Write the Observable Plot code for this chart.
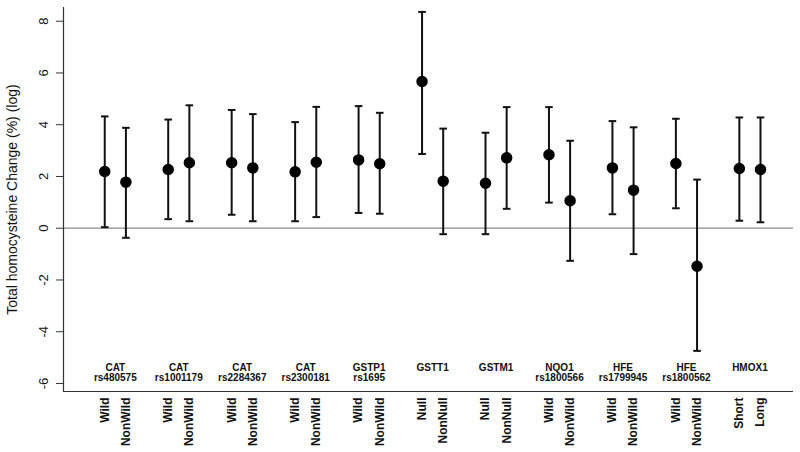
<!DOCTYPE html>
<html>
<head>
<meta charset="utf-8">
<script src="https://cdn.jsdelivr.net/npm/d3@7"></script>
<script src="https://cdn.jsdelivr.net/npm/@observablehq/plot@0.6"></script>
<style>
  html, body { margin: 0; padding: 0; background: #fff; }
  #chart svg { display: block; }
</style>
</head>
<body>
<div id="chart"></div>
<script>
// ---- data ----
const genes = ["CAT", "CAT", "CAT", "CAT", "GSTP1", "GSTT1", "GSTM1", "NQO1", "HFE", "HFE", "HMOX1"];
const snps = ["rs480575", "rs1001179", "rs2284367", "rs2300181", "rs1695", "", "", "rs1800566", "rs1799945", "rs1800562", ""];
const levels = ["Wild", "NonWild", "Wild", "NonWild", "Wild", "NonWild", "Wild", "NonWild", "Wild", "NonWild",
                "Null", "NonNull", "Null", "NonNull", "Wild", "NonWild", "Wild", "NonWild", "Wild", "NonWild",
                "Short", "Long"];
const estimate = [2.19, 1.78, 2.27, 2.53, 2.53, 2.33, 2.18, 2.55, 2.64, 2.49, 5.67, 1.82, 1.74, 2.72, 2.84, 1.06, 2.33, 1.47, 2.50, -1.47, 2.31, 2.27];
const lower = [0.04, -0.37, 0.35, 0.27, 0.52, 0.27, 0.27, 0.43, 0.59, 0.56, 2.87, -0.23, -0.23, 0.75, 0.99, -1.26, 0.54, -1.00, 0.77, -4.74, 0.29, 0.23];
const upper = [4.32, 3.88, 4.20, 4.75, 4.57, 4.41, 4.10, 4.69, 4.72, 4.46, 8.36, 3.85, 3.69, 4.68, 4.68, 3.38, 4.14, 3.90, 4.23, 1.88, 4.28, 4.28];
const yTicks = [-6, -4, -2, 0, 2, 4, 6, 8];
const yTitle = "Total homocysteine Change (%) (log)";

// ---- build tables ----
const rows = levels.map((lv, k) => ({
  pos: 3 * Math.floor(k / 2) + (k % 2),
  level: lv,
  est: estimate[k],
  lo: lower[k],
  hi: upper[k]
}));
const groups = genes.map((g, i) => ({pos: 3 * i + 0.5, gene: g, snp: snps[i]}));

const cap = {
  draw(context) {
    context.moveTo(-3.8, 0);
    context.lineTo(3.8, 0);
  }
};

const font = "'Liberation Sans', Arial, Helvetica, sans-serif";

const chart = Plot.plot({
  width: 800,
  height: 452,
  marginLeft: 63,
  marginRight: 7,
  marginTop: 7,
  marginBottom: 61,
  x: {domain: [-1.95, 32.56], axis: null},
  y: {domain: [-6.31, 8.53], axis: null},
  style: {fontFamily: font, background: "#fff", color: "#000", overflow: "visible"},
  marks: [
    Plot.ruleY([0], {stroke: "#8a8a8a", strokeWidth: 1.2}),
    Plot.ruleX([-1.95], {stroke: "#333", strokeWidth: 1.2}),
    Plot.ruleY([-6.31], {stroke: "#333", strokeWidth: 1.2}),
    Plot.axisY({ticks: yTicks, tickSize: 7, text: null, anchor: "left", stroke: "#333"}),
    Plot.text(yTicks, {y: d => d, text: d => String(d), frameAnchor: "left", dx: -20, rotate: -90,
      textAnchor: "middle", lineAnchor: "middle", fontSize: 13, fill: "#111"}),
    Plot.text([yTitle], {frameAnchor: "left", dx: -51, rotate: -90, textAnchor: "middle",
      lineAnchor: "middle", fontSize: 14, fill: "#111"}),
    Plot.ruleX(rows, {x: "pos", y1: "lo", y2: "hi", stroke: "#111", strokeWidth: 2}),
    Plot.dot(rows, {x: "pos", y: "hi", symbol: cap, r: 1, stroke: "#111", strokeWidth: 2, fill: "none"}),
    Plot.dot(rows, {x: "pos", y: "lo", symbol: cap, r: 1, stroke: "#111", strokeWidth: 2, fill: "none"}),
    Plot.dot(rows, {x: "pos", y: "est", r: 5, fill: "#000", stroke: "#000"}),
    Plot.text(groups, {x: "pos", text: "gene", frameAnchor: "bottom", dy: -24, lineAnchor: "middle",
      fontSize: 10, fontWeight: "bold", fill: "#111"}),
    Plot.text(groups, {x: "pos", text: "snp", frameAnchor: "bottom", dy: -14, lineAnchor: "middle",
      fontSize: 10, fontWeight: "bold", fill: "#111"}),
    Plot.text(rows, {x: "pos", text: "level", frameAnchor: "bottom", dy: 6, rotate: -90,
      textAnchor: "end", lineAnchor: "middle", fontSize: 12, fontWeight: "bold", fill: "#111"})
  ]
});
document.getElementById("chart").appendChild(chart);
</script>
</body>
</html>
